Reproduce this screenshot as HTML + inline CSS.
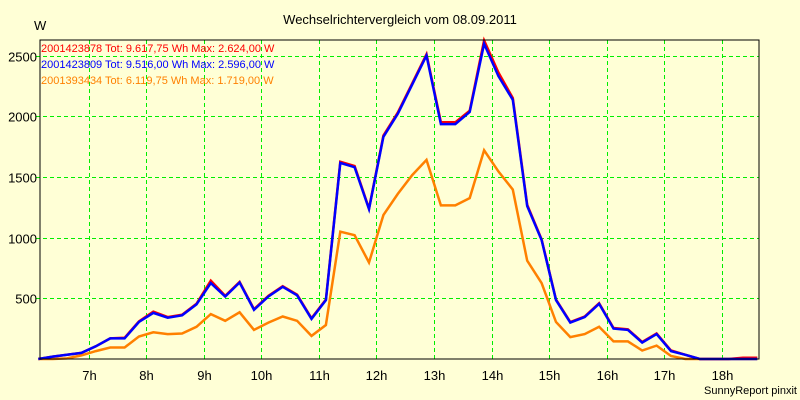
<!DOCTYPE html>
<html><head><meta charset="utf-8"><style>
body{margin:0;background:#ffffd6;}
svg{display:block;font-family:"Liberation Sans",sans-serif;}
</style></head><body>
<svg id="chart" width="800" height="400">
<rect x="0" y="0" width="800" height="400" fill="#ffffd6"/>
<text x="400" y="24" text-anchor="middle" font-size="13" fill="#000">Wechselrichtervergleich vom 08.09.2011</text>
<text x="34" y="30" font-size="13" fill="#000">W</text>
<text x="797" y="394" text-anchor="end" font-size="11" fill="#000">SunnyReport pinxit</text>
<g id="grid"></g>
<g id="series"></g>
<rect x="40" y="40" width="719" height="319" fill="none" stroke="#000" stroke-width="1"/>
<g id="legend" font-size="11">
<text x="41" y="52" fill="#ff0000">2001423878 Tot: 9.617,75 Wh Max: 2.624,00 W</text>
<text x="41" y="68" fill="#0000ff">2001423809 Tot: 9.516,00 Wh Max: 2.596,00 W</text>
<text x="41" y="84" fill="#ff8000">2001393434 Tot: 6.119,75 Wh Max: 1.719,00 W</text>
</g>
</svg>
<script>
const startHour = 6.12;
const stepHours = 0.25;
const hourTicks = [7,8,9,10,11,12,13,14,15,16,17,18];
const valueTicks = [500,1000,1500,2000,2500];
const redValues = [0,20,35,50,105,170,175,310,390,345,365,455,645,520,635,410,520,600,530,335,490,1625,1590,1240,1840,2030,2270,2510,1950,1950,2045,2624,2360,2150,1270,985,490,305,350,460,255,245,140,210,70,35,0,0,0,10,10];
const blueValues = [0,20,35,50,105,170,170,305,380,340,360,450,625,515,630,405,515,595,525,330,485,1615,1580,1235,1830,2020,2260,2500,1935,1935,2035,2596,2330,2135,1260,980,485,300,345,455,250,240,135,205,65,35,0,0,0,0,0];
const orangeValues = [0,0,5,30,65,95,95,185,220,205,210,265,370,315,385,240,300,350,315,190,280,1049,1020,795,1185,1360,1515,1640,1265,1265,1325,1719,1545,1395,810,625,305,180,205,265,145,145,70,110,25,0,0,0,0,0,0];

const X0=40, X1=759, Y0=359, Y1=40;
const hStart=6.15, hEnd=18.65;
function xs(h){return X0+(h-hStart)/(hEnd-hStart)*(X1-X0);}
function ys(v){return Y0-v*(303.5/2500);}
const NS="http://www.w3.org/2000/svg";
const grid=document.getElementById('grid');
hourTicks.forEach(h=>{
  const x=Math.round(xs(h))+0.5;
  const l=document.createElementNS(NS,'line');
  l.setAttribute('x1',x);l.setAttribute('x2',x);l.setAttribute('y1',Y1);l.setAttribute('y2',Y0);
  l.setAttribute('stroke','#00ee00');l.setAttribute('stroke-dasharray','4,3');
  
  
  grid.appendChild(l);
  const t=document.createElementNS(NS,'text');
  t.setAttribute('x',x);t.setAttribute('y',380);t.setAttribute('text-anchor','middle');t.setAttribute('font-size','13');
  t.textContent=h+'h';
  
  
  grid.appendChild(t);
});
valueTicks.forEach(v=>{
  const y=Math.round(ys(v))+0.5;
  const l=document.createElementNS(NS,'line');
  l.setAttribute('x1',X0-4);l.setAttribute('x2',X1);l.setAttribute('y1',y);l.setAttribute('y2',y);
  l.setAttribute('stroke','#00ee00');l.setAttribute('stroke-dasharray','4,3');
  
  
  grid.appendChild(l);
  const t=document.createElementNS(NS,'text');
  t.setAttribute('x',37);t.setAttribute('y',y+5);t.setAttribute('text-anchor','end');t.setAttribute('font-size','13');
  t.textContent=v;
  
  
  grid.appendChild(t);
});
const ser=document.getElementById('series');
function draw(vals,color,name){
  const pts=vals.map((v,i)=>xs(startHour+i*stepHours).toFixed(1)+','+ys(v).toFixed(1)).join(' ');
  const p=document.createElementNS(NS,'polyline');
  p.setAttribute('points',pts);p.setAttribute('fill','none');p.setAttribute('stroke',color);p.setAttribute('stroke-width','2.5');
  
  
  ser.appendChild(p);
}
draw(orangeValues,'#ff8000','series-line-2001393434');
draw(redValues,'#ff0000','series-line-2001423878');
draw(blueValues,'#0000ff','series-line-2001423809');
</script>
</body></html>
